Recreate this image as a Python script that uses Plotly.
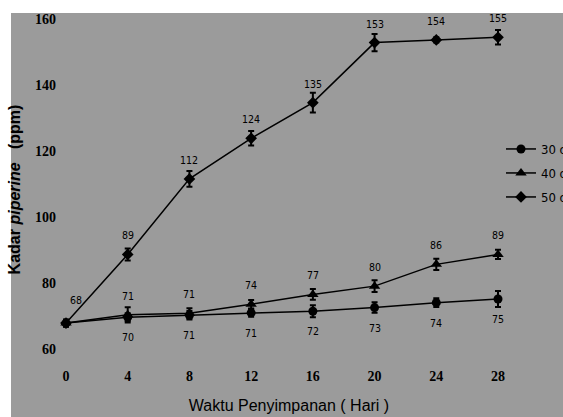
import plotly.graph_objects as go

days = [0, 4, 8, 12, 16, 20, 24, 28]
tick_labels = ["0", "4", "8", "12", "16", "20", "24", "28"]

s30 = [68, 69.8, 70.4, 71.1, 71.6, 72.7, 74.2, 75.3]
s40 = [68, 70.5, 71.0, 73.7, 76.7, 79.2, 85.8, 88.8]
s50 = [68, 88.8, 111.7, 124.0, 134.8, 153.0, 153.8, 154.6]

err30 = [1.0, 1.2, 1.3, 1.2, 1.8, 1.6, 1.3, 2.4]
err40 = [1.0, 2.3, 1.5, 1.3, 1.6, 1.8, 1.7, 1.4]
err50 = [1.0, 1.8, 2.4, 2.2, 3.0, 2.6, 0.8, 2.2]

lab30 = [None, "70", "71", "71", "72", "73", "74", "75"]
lab40 = [None, "71", "71", "74", "77", "80", "86", "89"]
lab50 = ["68", "89", "112", "124", "135", "153", "154", "155"]

names = ["30 oC", "40 oC", "50 oC"]

W, H = 563, 417
L, R, T, B = 59, 519, 13, 366  # plot area in px
GRAY = "#9b9b9b"
NARROW = "Liberation Sans Narrow, DejaVu Sans Condensed, sans-serif"

fig = go.Figure()

series = [(s30, err30, "circle", names[0], "legend", 9),
          (s40, err40, "triangle-up", names[1], "legend2", 10),
          (s50, err50, "diamond", names[2], "legend3", 9)]
for vals, errs, sym, nm, lg, ms in series:
    fig.add_trace(go.Scatter(
        x=days, y=vals, name=nm, mode="lines+markers", legend=lg,
        line=dict(color="black", width=1.5),
        marker=dict(symbol=sym, size=ms, color="black"),
        error_y=dict(type="data", array=errs, visible=True, color="black",
                     thickness=2, width=3),
    ))

lab_font = dict(family=NARROW, size=10.5, color="black")
for vals, labs, direction in [(s30, lab30, -1), (s40, lab40, 1), (s50, lab50, 1)]:
    for i, (d, v, t) in enumerate(zip(days, vals, labs)):
        if t is None:
            continue
        xs, ys = (10, 23) if d == 0 else (0, 19 * direction if direction > 0 else -20)
        fig.add_annotation(x=d, y=v, xref="x", yref="y", text=t, showarrow=False,
                           xshift=xs, yshift=ys, font=lab_font)

# gray background panel
fig.add_shape(type="rect", xref="paper", yref="paper", layer="below",
              x0=(11 - L) / (R - L), x1=(W - L) / (R - L),
              y0=(B - H) / (B - T), y1=1.0,
              fillcolor=GRAY, line=dict(width=0))

px_per_day = (498 - 66) / 28.0
x0r = (L - 66) / px_per_day
x1r = (R - 66) / px_per_day
ppu = 3.3
y60 = 349.5
ybot = 60 + (y60 - B) / ppu
ytop = 60 + (y60 - T) / ppu

leg_common = dict(xref="container", yref="container", xanchor="left", yanchor="middle",
                  bgcolor="rgba(0,0,0,0)", borderwidth=0,
                  font=dict(family=NARROW, size=13, color="black"))
fig.update_layout(
    width=W, height=H, autosize=False,
    margin=dict(l=L, r=W - R, t=T, b=H - B, pad=0, autoexpand=False),
    paper_bgcolor="white", plot_bgcolor=GRAY,
    showlegend=True,
    legend=dict(x=501 / W, y=1 - 149 / H, **leg_common),
    legend2=dict(x=501 / W, y=1 - 173 / H, **leg_common),
    legend3=dict(x=501 / W, y=1 - 197 / H, **leg_common),
    xaxis=dict(range=[x0r, x1r], tickvals=days, ticktext=tick_labels,
               showgrid=False, zeroline=False, showline=False, ticks="",
               tickfont=dict(family="Liberation Serif", size=14, color="black", weight="bold"),
               title=dict(text="Waktu Penyimpanan ( Hari )", standoff=16,
                          font=dict(family="Liberation Sans", size=16, color="black")),
               automargin=False),
    yaxis=dict(range=[ybot, ytop], tickvals=[60, 80, 100, 120, 140, 160],
               showgrid=False, zeroline=False, showline=False, ticks="",
               ticklabelstandoff=2,
               tickfont=dict(family="Liberation Serif", size=14, color="black", weight="bold"),
               title=dict(text="Kadar <i>piperine</i>&nbsp;&nbsp;&nbsp;(ppm)", standoff=10,
                          font=dict(family="Liberation Sans", size=16, color="black", weight="bold")),
               automargin=False),
)

fig.write_html("out.html")
